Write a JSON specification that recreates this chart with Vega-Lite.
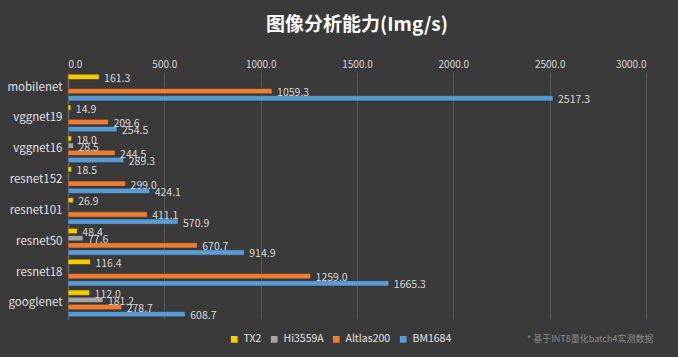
{
  "$schema": "https://vega.github.io/schema/vega-lite/v6.json",
  "autosize": "none",
  "width": 578,
  "height": 247,
  "padding": {"left": 68, "top": 72, "right": 32, "bottom": 38},
  "background": "#3a3a3a",
  "title": {
    "text": "图像分析能力(Img/s)",
    "color": "#ffffff",
    "fontSize": 19,
    "font": "Noto Sans CJK SC",
    "fontWeight": "bold",
    "anchor": "middle",
    "offset": 24
  },
  "config": {
    "view": {"stroke": null},
    "font": "Noto Sans CJK SC"
  },
  "data": {
    "values": [
      {"model": "mobilenet", "chip": "TX2", "value": 161.3},
      {"model": "mobilenet", "chip": "Altlas200", "value": 1059.3},
      {"model": "mobilenet", "chip": "BM1684", "value": 2517.3},
      {"model": "vggnet19", "chip": "TX2", "value": 14.9},
      {"model": "vggnet19", "chip": "Altlas200", "value": 209.6},
      {"model": "vggnet19", "chip": "BM1684", "value": 254.5},
      {"model": "vggnet16", "chip": "TX2", "value": 18.0},
      {"model": "vggnet16", "chip": "Hi3559A", "value": 28.5},
      {"model": "vggnet16", "chip": "Altlas200", "value": 244.5},
      {"model": "vggnet16", "chip": "BM1684", "value": 289.3},
      {"model": "resnet152", "chip": "TX2", "value": 18.5},
      {"model": "resnet152", "chip": "Altlas200", "value": 299.0},
      {"model": "resnet152", "chip": "BM1684", "value": 424.1},
      {"model": "resnet101", "chip": "TX2", "value": 26.9},
      {"model": "resnet101", "chip": "Altlas200", "value": 411.1},
      {"model": "resnet101", "chip": "BM1684", "value": 570.9},
      {"model": "resnet50", "chip": "TX2", "value": 48.4},
      {"model": "resnet50", "chip": "Hi3559A", "value": 77.6},
      {"model": "resnet50", "chip": "Altlas200", "value": 670.7},
      {"model": "resnet50", "chip": "BM1684", "value": 914.9},
      {"model": "resnet18", "chip": "TX2", "value": 116.4},
      {"model": "resnet18", "chip": "Altlas200", "value": 1259.0},
      {"model": "resnet18", "chip": "BM1684", "value": 1665.3},
      {"model": "googlenet", "chip": "TX2", "value": 112.0},
      {"model": "googlenet", "chip": "Hi3559A", "value": 181.2},
      {"model": "googlenet", "chip": "Altlas200", "value": 278.7},
      {"model": "googlenet", "chip": "BM1684", "value": 608.7}
    ]
  },
  "encoding": {
    "y": {
      "field": "model",
      "type": "nominal",
      "sort": ["mobilenet", "vggnet19", "vggnet16", "resnet152", "resnet101", "resnet50", "resnet18", "googlenet"],
      "scale": {"paddingInner": 0.13, "paddingOuter": 0.07},
      "axis": {
        "title": null,
        "labelColor": "#e0e0e0",
        "labelFontSize": 11.5,
        "labelPadding": 6,
        "ticks": false,
        "domainColor": "#6a6a6a",
        "domainWidth": 1.5
      }
    },
    "yOffset": {
      "field": "chip",
      "type": "nominal",
      "sort": ["TX2", "Hi3559A", "Altlas200", "BM1684"],
      "scale": {"paddingInner": 0.25}
    },
    "x": {
      "field": "value",
      "type": "quantitative",
      "scale": {"domain": [0, 3000], "nice": false},
      "axis": {
        "orient": "top",
        "title": null,
        "format": ".1f",
        "values": [0, 500, 1000, 1500, 2000, 2500, 3000],
        "labelColor": "#d8d8d8",
        "labelFontSize": 10,
        "labelPadding": 3,
        "ticks": false,
        "domain": false,
        "gridColor": "#5a5a5a",
        "gridWidth": 1
      }
    }
  },
  "layer": [
    {
      "mark": {"type": "bar", "stroke": "#2a2a2a", "strokeWidth": 0.5},
      "encoding": {
        "color": {
          "field": "chip",
          "type": "nominal",
          "sort": ["TX2", "Hi3559A", "Altlas200", "BM1684"],
          "scale": {
            "domain": ["TX2", "Hi3559A", "Altlas200", "BM1684"],
            "range": ["#f5cc00", "#a5a5a5", "#ed7d31", "#5b9bd5"]
          },
          "legend": {
            "orient": "none",
            "legendX": 161,
            "legendY": 262,
            "direction": "horizontal",
            "title": "* 基于INT8量化batch4实测数据",
            "titleOrient": "right",
            "titleColor": "#8a8a8a",
            "titleFontSize": 9,
            "titleFontWeight": "normal",
            "titlePadding": 76,
            "titleBaseline": "middle",
            "labelColor": "#e0e0e0",
            "labelFontSize": 10.5,
            "labelOffset": 4,
            "symbolType": "square",
            "symbolSize": 45,
            "symbolStrokeWidth": 0,
            "columnPadding": 7
          }
        }
      }
    },
    {
      "mark": {"type": "text", "align": "left", "baseline": "middle", "dx": 5, "dy": 2, "color": "#d8d8d8", "fontSize": 10.5},
      "encoding": {
        "text": {"field": "value", "type": "quantitative", "format": ".1f"}
      }
    }
  ]
}
